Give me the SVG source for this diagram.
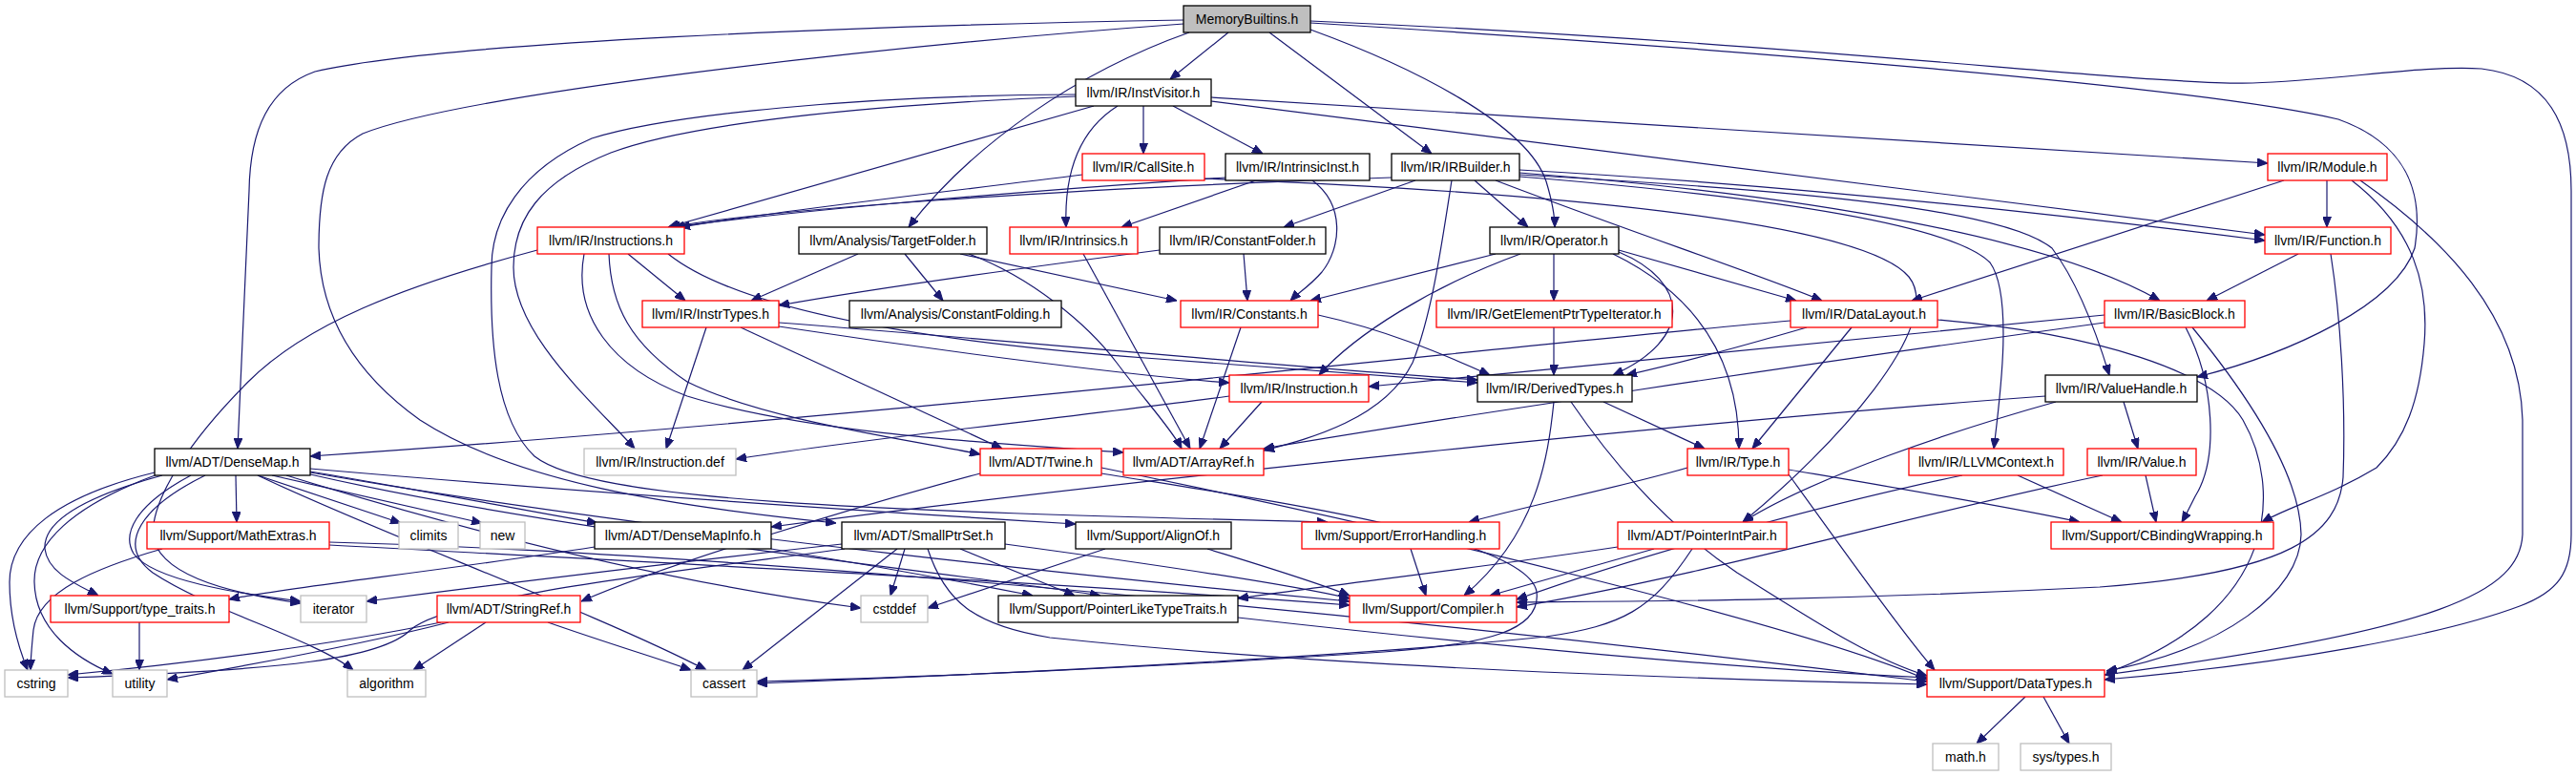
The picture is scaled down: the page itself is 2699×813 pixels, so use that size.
<svg xmlns="http://www.w3.org/2000/svg" width="2699" height="813" viewBox="0 0 2699 813">
<style>
.e{fill:none;stroke:#191970;stroke-width:1.2}
rect{stroke-width:1.3}
rect.b{fill:#fff;stroke:#000}
rect.r{fill:#fff;stroke:#ff0000}
rect.g{fill:#fff;stroke:#bfbfbf}
rect.root{fill:#bfbfbf;stroke:#000}
text{font-family:"Liberation Sans",Arial,sans-serif;font-size:14px;text-anchor:middle;fill:#000}
</style>
<defs>
<marker id="a" markerWidth="11" markerHeight="9" refX="11" refY="4.5" orient="auto" markerUnits="userSpaceOnUse"><path d="M0,0 L11,4.5 L0,9 z" fill="#191970" stroke="#191970"/></marker>
</defs>
<rect width="2699" height="813" fill="#fff"/>
<g id="edges" marker-end="url(#a)">
<path class="e" d="M1287,34 L1226,83"/>
<path class="e" d="M1330,34 L1500,161"/>
<path class="e" d="M1373,31 C1480,70 1600,130 1620,190 C1626,210 1629,225 1629,238"/>
<path class="e" d="M1246,34 C1130,75 1020,150 952,238"/>
<path class="e" d="M1240,21 C900,27 460,44 330,75 C282,92 262,135 261,200 L249,470"/>
<path class="e" d="M1240,25 C900,50 480,100 380,140 C342,160 334,200 334,260 C336,330 370,390 440,440 C540,505 700,530 876,548"/>
<path class="e" d="M1373,24 C1800,50 2300,90 2450,125 C2520,150 2540,200 2530,260 C2510,320 2400,370 2302,395"/>
<path class="e" d="M1373,22 C1900,45 2250,90 2360,87 C2450,84 2540,68 2600,72 C2670,80 2694,130 2694,200 L2694,560 C2694,600 2680,620 2640,635 C2560,665 2400,695 2205,712"/>
<path class="e" d="M1198,111 L1198,161"/>
<path class="e" d="M1229,111 L1323,161"/>
<path class="e" d="M1171,111 C1128,138 1115,185 1117,238"/>
<path class="e" d="M1269,102 L2376,171"/>
<path class="e" d="M1269,106 L2373,246"/>
<path class="e" d="M1146,111 L700,238"/>
<path class="e" d="M1127,101 C900,110 720,130 640,160 C565,190 538,230 538,280 C538,350 620,420 665,470"/>
<path class="e" d="M1127,99 C900,100 700,120 620,145 C545,178 515,230 515,280 C513,360 520,440 560,478 C620,525 900,535 1391,547"/>
<path class="e" d="M1134,183 C1000,200 820,220 712,238"/>
<path class="e" d="M1262,187 C1600,200 1950,230 2000,290 C2040,340 1920,470 1826,547"/>
<path class="e" d="M1316,189 L1175,238"/>
<path class="e" d="M1375,189 C1410,215 1405,260 1385,285 C1372,300 1360,307 1352,315"/>
<path class="e" d="M1284,186 C1000,205 800,225 706,238"/>
<path class="e" d="M1458,186 C1100,198 800,220 702,238"/>
<path class="e" d="M1483,189 L1345,238"/>
<path class="e" d="M1521,189 C1510,260 1500,330 1480,380 C1450,440 1370,460 1324,472"/>
<path class="e" d="M1545,189 L1601,238"/>
<path class="e" d="M1567,189 C1700,240 1850,290 1909,315"/>
<path class="e" d="M1592,181 C1900,205 2150,250 2263,315"/>
<path class="e" d="M1592,178 C1900,195 2200,230 2373,252"/>
<path class="e" d="M1592,183 C1900,200 2100,220 2150,260 C2180,300 2200,360 2210,393"/>
<path class="e" d="M1592,185 C1900,210 2050,240 2085,275 C2110,310 2095,420 2089,470"/>
<path class="e" d="M1628,266 L1628,315"/>
<path class="e" d="M1696,262 L1882,315"/>
<path class="e" d="M1696,264 C1770,295 1775,355 1690,393"/>
<path class="e" d="M1690,266 C1780,310 1822,380 1822,470"/>
<path class="e" d="M1593,266 C1500,300 1420,350 1382,393"/>
<path class="e" d="M1567,266 L1373,315"/>
<path class="e" d="M2438,189 L2438,238"/>
<path class="e" d="M2393,189 L2003,315"/>
<path class="e" d="M2464,189 C2530,240 2545,300 2540,360 C2535,420 2520,460 2490,490 C2440,520 2400,530 2370,547"/>
<path class="e" d="M2473,189 C2560,250 2640,330 2643,440 L2643,560 C2640,620 2560,660 2205,707"/>
<path class="e" d="M2408,266 L2312,315"/>
<path class="e" d="M2442,266 C2452,330 2458,420 2455,500 C2450,560 2400,600 2200,615 C1900,630 1700,630 1589,631"/>
<path class="e" d="M1876,336 C1600,360 900,440 325,478"/>
<path class="e" d="M1893,343 C1800,370 1740,385 1704,393"/>
<path class="e" d="M1940,343 L1836,470"/>
<path class="e" d="M2030,335 C2200,350 2320,390 2350,440 C2390,510 2390,640 2207,705"/>
<path class="e" d="M2205,330 C2000,350 1700,380 1434,405"/>
<path class="e" d="M2205,338 C1900,380 1500,440 1324,470"/>
<path class="e" d="M2290,343 C2320,400 2325,480 2300,520 C2295,530 2290,540 2286,547"/>
<path class="e" d="M2297,343 C2360,420 2410,500 2411,560 C2410,620 2330,680 2207,703"/>
<path class="e" d="M1288,415 C1100,440 900,460 771,481"/>
<path class="e" d="M1322,421 L1278,470"/>
<path class="e" d="M1680,421 L1786,470"/>
<path class="e" d="M1628,421 C1622,480 1610,560 1534,624"/>
<path class="e" d="M1646,421 C1700,500 1760,560 1820,600 C1900,650 1960,690 2019,708"/>
<path class="e" d="M2154,421 C2050,450 1900,500 1826,547"/>
<path class="e" d="M2143,415 C1800,440 1200,500 808,552"/>
<path class="e" d="M2225,421 L2240,470"/>
<path class="e" d="M2056,498 C1950,520 1750,570 1589,628"/>
<path class="e" d="M2114,498 L2223,547"/>
<path class="e" d="M2203,498 C2000,540 1800,600 1589,636"/>
<path class="e" d="M2248,498 L2259,547"/>
<path class="e" d="M1768,490 C1700,510 1600,530 1539,547"/>
<path class="e" d="M1874,492 C1980,510 2100,530 2179,547"/>
<path class="e" d="M1874,497 C1920,560 1990,660 2027,702"/>
<path class="e" d="M899,266 L787,315"/>
<path class="e" d="M948,266 L988,315"/>
<path class="e" d="M1006,266 L1233,315"/>
<path class="e" d="M1015,266 C1080,290 1140,340 1170,380 C1200,420 1228,450 1238,470"/>
<path class="e" d="M1215,262 C1000,290 900,305 816,320"/>
<path class="e" d="M1303,266 L1307,315"/>
<path class="e" d="M1135,266 L1247,470"/>
<path class="e" d="M1381,330 C1450,345 1510,370 1561,393"/>
<path class="e" d="M1300,343 L1257,470"/>
<path class="e" d="M1628,343 L1628,393"/>
<path class="e" d="M658,266 L718,315"/>
<path class="e" d="M700,266 C780,330 1000,360 1200,375 C1350,387 1480,395 1548,401"/>
<path class="e" d="M563,262 C420,300 320,340 260,400 C200,460 160,520 160,560 C165,600 230,620 315,632"/>
<path class="e" d="M638,266 C640,320 660,360 720,400 C800,440 950,460 1027,476"/>
<path class="e" d="M612,266 C600,330 640,385 720,415 C850,455 1050,465 1177,474"/>
<path class="e" d="M816,338 C1100,360 1350,385 1548,398"/>
<path class="e" d="M816,342 C1000,370 1200,395 1288,401"/>
<path class="e" d="M740,343 L698,470"/>
<path class="e" d="M776,343 L1050,470"/>
<path class="e" d="M1027,496 C900,530 700,590 609,630"/>
<path class="e" d="M1154,490 C1500,560 1900,660 2019,712"/>
<path class="e" d="M1154,496 C1300,520 1600,560 1610,620 C1615,660 1560,675 1450,683 C1200,700 950,710 793,714"/>
<path class="e" d="M247,498 L248,547"/>
<path class="e" d="M270,498 L420,548"/>
<path class="e" d="M285,498 L505,548"/>
<path class="e" d="M325,494 C450,515 550,535 626,548"/>
<path class="e" d="M325,491 C600,515 900,535 1127,549"/>
<path class="e" d="M325,497 C600,560 1000,600 1153,624"/>
<path class="e" d="M325,495 C700,560 1200,610 1414,630"/>
<path class="e" d="M300,498 C500,560 700,610 902,637"/>
<path class="e" d="M270,498 C400,560 620,640 740,702"/>
<path class="e" d="M170,498 C90,520 45,545 47,575 C50,600 80,612 103,624"/>
<path class="e" d="M162,495 C60,520 10,560 10,610 C10,650 20,680 29,702"/>
<path class="e" d="M165,497 C75,530 35,570 36,610 C37,660 80,690 118,706"/>
<path class="e" d="M200,498 C140,530 128,560 140,580 C160,608 250,622 315,630"/>
<path class="e" d="M215,498 C150,530 120,570 160,600 C220,640 330,670 370,702"/>
<path class="e" d="M170,575 C100,595 40,620 35,660 C33,680 32,690 32,702"/>
<path class="e" d="M345,571 C700,590 1100,610 1414,634"/>
<path class="e" d="M345,568 C800,580 1500,650 2019,714"/>
<path class="e" d="M808,575 C900,590 1000,608 1082,624"/>
<path class="e" d="M623,573 C450,600 300,615 240,628"/>
<path class="e" d="M882,570 C700,590 500,615 384,630"/>
<path class="e" d="M885,575 C700,600 470,625 430,660 C400,690 300,702 71,710"/>
<path class="e" d="M948,575 L933,624"/>
<path class="e" d="M940,575 L778,702"/>
<path class="e" d="M1006,575 L1126,624"/>
<path class="e" d="M1053,570 C1200,590 1350,612 1414,627"/>
<path class="e" d="M972,575 C990,630 1020,655 1100,668 C1400,700 1800,712 2019,717"/>
<path class="e" d="M1158,575 L972,637"/>
<path class="e" d="M1265,575 C1330,595 1380,610 1414,624"/>
<path class="e" d="M1478,575 L1494,624"/>
<path class="e" d="M1695,573 C1550,595 1400,612 1297,627"/>
<path class="e" d="M1733,575 L1561,624"/>
<path class="e" d="M1773,575 C1730,640 1700,655 1620,667 C1400,690 1000,708 793,716"/>
<path class="e" d="M1297,647 C1500,670 1800,700 2019,710"/>
<path class="e" d="M462,652 C350,675 200,695 71,707"/>
<path class="e" d="M470,652 C400,670 300,690 175,712"/>
<path class="e" d="M509,652 L433,702"/>
<path class="e" d="M574,652 C640,675 690,690 724,702"/>
<path class="e" d="M146,652 L146,702"/>
<path class="e" d="M2122,730 L2071,779"/>
<path class="e" d="M2141,730 L2168,779"/>
</g>
<g id="MB"><rect class="root" x="1240" y="6" width="133" height="28"/><text x="1306.5" y="25">MemoryBuiltins.h</text></g>
<g id="IV"><rect class="b" x="1127" y="83" width="142" height="28"/><text x="1198" y="102">llvm/IR/InstVisitor.h</text></g>
<g id="CS"><rect class="r" x="1134" y="161" width="128" height="28"/><text x="1198" y="180">llvm/IR/CallSite.h</text></g>
<g id="II"><rect class="b" x="1284" y="161" width="151" height="28"/><text x="1359.5" y="180">llvm/IR/IntrinsicInst.h</text></g>
<g id="IRB"><rect class="b" x="1458" y="161" width="134" height="28"/><text x="1525" y="180">llvm/IR/IRBuilder.h</text></g>
<g id="MOD"><rect class="r" x="2376" y="161" width="125" height="28"/><text x="2438.5" y="180">llvm/IR/Module.h</text></g>
<g id="INS"><rect class="r" x="563" y="238" width="154" height="28"/><text x="640" y="257">llvm/IR/Instructions.h</text></g>
<g id="TF"><rect class="b" x="837" y="238" width="197" height="28"/><text x="935.5" y="257">llvm/Analysis/TargetFolder.h</text></g>
<g id="INTR"><rect class="r" x="1058" y="238" width="134" height="28"/><text x="1125" y="257">llvm/IR/Intrinsics.h</text></g>
<g id="CF"><rect class="b" x="1215" y="238" width="174" height="28"/><text x="1302" y="257">llvm/IR/ConstantFolder.h</text></g>
<g id="OP"><rect class="b" x="1561" y="238" width="135" height="28"/><text x="1628.5" y="257">llvm/IR/Operator.h</text></g>
<g id="FN"><rect class="r" x="2373" y="238" width="132" height="28"/><text x="2439" y="257">llvm/IR/Function.h</text></g>
<g id="IT"><rect class="r" x="673" y="315" width="143" height="28"/><text x="744.5" y="334">llvm/IR/InstrTypes.h</text></g>
<g id="CFo"><rect class="b" x="890" y="315" width="222" height="28"/><text x="1001" y="334">llvm/Analysis/ConstantFolding.h</text></g>
<g id="CON"><rect class="r" x="1237" y="315" width="144" height="28"/><text x="1309" y="334">llvm/IR/Constants.h</text></g>
<g id="GEP"><rect class="r" x="1505" y="315" width="247" height="28"/><text x="1628.5" y="334">llvm/IR/GetElementPtrTypeIterator.h</text></g>
<g id="DL"><rect class="r" x="1876" y="315" width="154" height="28"/><text x="1953" y="334">llvm/IR/DataLayout.h</text></g>
<g id="BB"><rect class="r" x="2205" y="315" width="147" height="28"/><text x="2278.5" y="334">llvm/IR/BasicBlock.h</text></g>
<g id="INSN"><rect class="r" x="1288" y="393" width="146" height="28"/><text x="1361" y="412">llvm/IR/Instruction.h</text></g>
<g id="DT"><rect class="b" x="1548" y="393" width="162" height="28"/><text x="1629" y="412">llvm/IR/DerivedTypes.h</text></g>
<g id="VH"><rect class="b" x="2143" y="393" width="159" height="28"/><text x="2222.5" y="412">llvm/IR/ValueHandle.h</text></g>
<g id="DM"><rect class="b" x="162" y="470" width="163" height="28"/><text x="243.5" y="489">llvm/ADT/DenseMap.h</text></g>
<g id="IDEF"><rect class="g" x="612" y="470" width="159" height="28"/><text x="691.5" y="489">llvm/IR/Instruction.def</text></g>
<g id="TW"><rect class="r" x="1027" y="470" width="127" height="28"/><text x="1090.5" y="489">llvm/ADT/Twine.h</text></g>
<g id="AR"><rect class="r" x="1177" y="470" width="147" height="28"/><text x="1250.5" y="489">llvm/ADT/ArrayRef.h</text></g>
<g id="TY"><rect class="r" x="1768" y="470" width="106" height="28"/><text x="1821" y="489">llvm/IR/Type.h</text></g>
<g id="CTX"><rect class="r" x="2000" y="470" width="162" height="28"/><text x="2081" y="489">llvm/IR/LLVMContext.h</text></g>
<g id="VAL"><rect class="r" x="2187" y="470" width="114" height="28"/><text x="2244" y="489">llvm/IR/Value.h</text></g>
<g id="ME"><rect class="r" x="154" y="547" width="191" height="28"/><text x="249.5" y="566">llvm/Support/MathExtras.h</text></g>
<g id="CLIM"><rect class="g" x="418" y="547" width="62" height="28"/><text x="449" y="566">climits</text></g>
<g id="NEW"><rect class="g" x="503" y="547" width="47" height="28"/><text x="526.5" y="566">new</text></g>
<g id="DMI"><rect class="b" x="623" y="547" width="185" height="28"/><text x="715.5" y="566">llvm/ADT/DenseMapInfo.h</text></g>
<g id="SPS"><rect class="b" x="882" y="547" width="171" height="28"/><text x="967.5" y="566">llvm/ADT/SmallPtrSet.h</text></g>
<g id="AO"><rect class="b" x="1127" y="547" width="163" height="28"/><text x="1208.5" y="566">llvm/Support/AlignOf.h</text></g>
<g id="EH"><rect class="r" x="1364" y="547" width="207" height="28"/><text x="1467.5" y="566">llvm/Support/ErrorHandling.h</text></g>
<g id="PIP"><rect class="r" x="1695" y="547" width="177" height="28"/><text x="1783.5" y="566">llvm/ADT/PointerIntPair.h</text></g>
<g id="CBW"><rect class="r" x="2149" y="547" width="233" height="28"/><text x="2265.5" y="566">llvm/Support/CBindingWrapping.h</text></g>
<g id="TT"><rect class="r" x="53" y="624" width="187" height="28"/><text x="146.5" y="643">llvm/Support/type_traits.h</text></g>
<g id="ITER"><rect class="g" x="315" y="624" width="69" height="28"/><text x="349.5" y="643">iterator</text></g>
<g id="SR"><rect class="r" x="458" y="624" width="150" height="28"/><text x="533" y="643">llvm/ADT/StringRef.h</text></g>
<g id="CSTD"><rect class="g" x="902" y="624" width="70" height="28"/><text x="937" y="643">cstddef</text></g>
<g id="PLT"><rect class="b" x="1046" y="624" width="251" height="28"/><text x="1171.5" y="643">llvm/Support/PointerLikeTypeTraits.h</text></g>
<g id="COMP"><rect class="r" x="1414" y="624" width="175" height="28"/><text x="1501.5" y="643">llvm/Support/Compiler.h</text></g>
<g id="CSTR"><rect class="g" x="5" y="702" width="66" height="28"/><text x="38" y="721">cstring</text></g>
<g id="UTIL"><rect class="g" x="118" y="702" width="57" height="28"/><text x="146.5" y="721">utility</text></g>
<g id="ALG"><rect class="g" x="364" y="702" width="82" height="28"/><text x="405" y="721">algorithm</text></g>
<g id="CASS"><rect class="g" x="724" y="702" width="69" height="28"/><text x="758.5" y="721">cassert</text></g>
<g id="DTY"><rect class="r" x="2019" y="702" width="186" height="28"/><text x="2112" y="721">llvm/Support/DataTypes.h</text></g>
<g id="MATH"><rect class="g" x="2025" y="779" width="69" height="28"/><text x="2059.5" y="798">math.h</text></g>
<g id="SYS"><rect class="g" x="2117" y="779" width="95" height="28"/><text x="2164.5" y="798">sys/types.h</text></g>
</svg>
